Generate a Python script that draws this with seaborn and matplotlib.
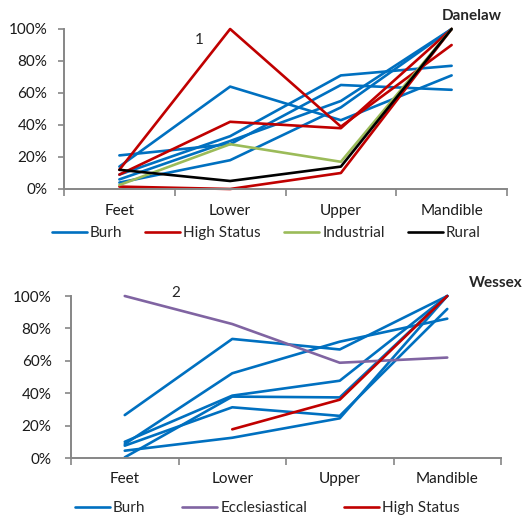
import numpy as np
import pandas as pd
import matplotlib
matplotlib.use("Agg")
import matplotlib.pyplot as plt
import seaborn as sns
from matplotlib.lines import Line2D

parts = ['Feet', 'Lower', 'Upper', 'Mandible']

# Danelaw (percent per part, one list per site)
dane_burh = [[14, 64, 43, 71], [21, 28, 65, 62], [9, 33, 71, 77],
             [6, 30, 55, 100], [4, 18, 51, 100]]
dane_high = [[12, 100, 39, 90], [9, 42, 38, 100], [1.5, 0, 10, 100]]
dane_industrial = [[2.5, 28, 17, 100]]
dane_rural = [[12, 5, 14, 100]]

# Wessex
wess_burh = [[26.5, 73.5, 67, 100], [8.6, 52.3, 71.8, 86], [10, 38.5, 47.7, 100],
             [0.4, 37.9, 37.4, 100], [7.6, 31.3, 26, 92], [4.5, 12.5, 24.5, 100]]
wess_eccl = [[100, 82.7, 58.8, 62]]
wess_high = [[None, 17.7, 36, 100]]

colors = {'Burh': '#0070C0', 'High Status': '#C00000', 'Industrial': '#9BBB59',
          'Rural': '#000000', 'Ecclesiastical': '#8064A2'}
gray = '#868686'
fs = 11


def to_long(groups):
    rows = []
    for name, series in groups:
        for i, vals in enumerate(series):
            for j, v in enumerate(vals):
                if v is None:
                    continue
                rows.append(dict(group=name, line=f'{name}{i}', pos=j, pct=v))
    return pd.DataFrame(rows)


df_dane = to_long([('Burh', dane_burh), ('High Status', dane_high),
                   ('Industrial', dane_industrial), ('Rural', dane_rural)])
df_wess = to_long([('Burh', wess_burh), ('Ecclesiastical', wess_eccl),
                   ('High Status', wess_high)])

sns.set_style('white')
plt.rcParams['font.family'] = ['Lato', 'DejaVu Sans']

fig = plt.figure(figsize=(5.25, 5.18), dpi=100)
ax1 = fig.add_axes([64 / 525, 1 - 189 / 518, 443 / 525, 160 / 518])
ax2 = fig.add_axes([71 / 525, 1 - 458 / 518, 430 / 525, 162 / 518])


def draw(ax, df, order, xpad, ypad):
    sns.lineplot(data=df, x='pos', y='pct', hue='group', units='line',
                 estimator=None, hue_order=order, palette=colors,
                 linewidth=1.9, sort=False, legend=False, ax=ax)
    for ln in ax.lines:
        ln.set_clip_on(False)
    ax.set_xlim(-0.5, 3.5)
    ax.set_ylim(0, 100)
    ax.set_xticks(range(4))
    ax.set_xticklabels(parts, fontsize=fs, color='#1a1a1a')
    ax.set_xticks([-0.5, 0.5, 1.5, 2.5, 3.5], minor=True)
    ax.tick_params(axis='x', which='major', length=0, pad=xpad)
    ax.tick_params(axis='x', which='minor', length=5, width=1.2, color=gray,
                   direction='out', bottom=True)
    ax.set_yticks(range(0, 101, 20))
    ax.set_yticklabels([f'{v}%' for v in range(0, 101, 20)],
                       fontsize=fs, color='#1a1a1a')
    ax.tick_params(axis='y', length=4, width=1.2, color=gray,
                   direction='out', left=True, pad=ypad)
    ax.set_xlabel('')
    ax.set_ylabel('')
    for s in ['top', 'right']:
        ax.spines[s].set_visible(False)
    for s in ['left', 'bottom']:
        ax.spines[s].set_color(gray)
        ax.spines[s].set_linewidth(1.4)
    handles = [Line2D([], [], color=colors[g], lw=1.9) for g in order]
    return handles


h1 = draw(ax1, df_dane, ['Burh', 'High Status', 'Industrial', 'Rural'], 11, 8)
h2 = draw(ax2, df_wess, ['Burh', 'Ecclesiastical', 'High Status'], 10, 10)

fig.legend(h1, ['Burh', 'High Status', 'Industrial', 'Rural'], loc='center',
           bbox_to_anchor=(0.507, 1 - 233 / 518), ncol=4, frameon=False,
           fontsize=fs, handlelength=2.3, handletextpad=0.2, columnspacing=1.5)
fig.legend(h2, ['Burh', 'Ecclesiastical', 'High Status'], loc='center',
           bbox_to_anchor=(0.509, 1 - 508 / 518), ncol=3, frameon=False,
           fontsize=fs, handlelength=2.3, handletextpad=0.2, columnspacing=2.4)

ax1.text(0.72, 93, '1', fontsize=fs, ha='center', va='center')
ax2.text(0.47, 102, '2', fontsize=fs, ha='center', va='center', clip_on=False)
fig.text(442 / 525, 1 - 16 / 518, 'Danelaw', fontsize=fs, fontweight='bold',
         ha='left', va='center')
fig.text(469 / 525, 1 - 283 / 518, 'Wessex', fontsize=fs, fontweight='bold',
         ha='left', va='center')

fig.savefig('out.png', dpi=100)
